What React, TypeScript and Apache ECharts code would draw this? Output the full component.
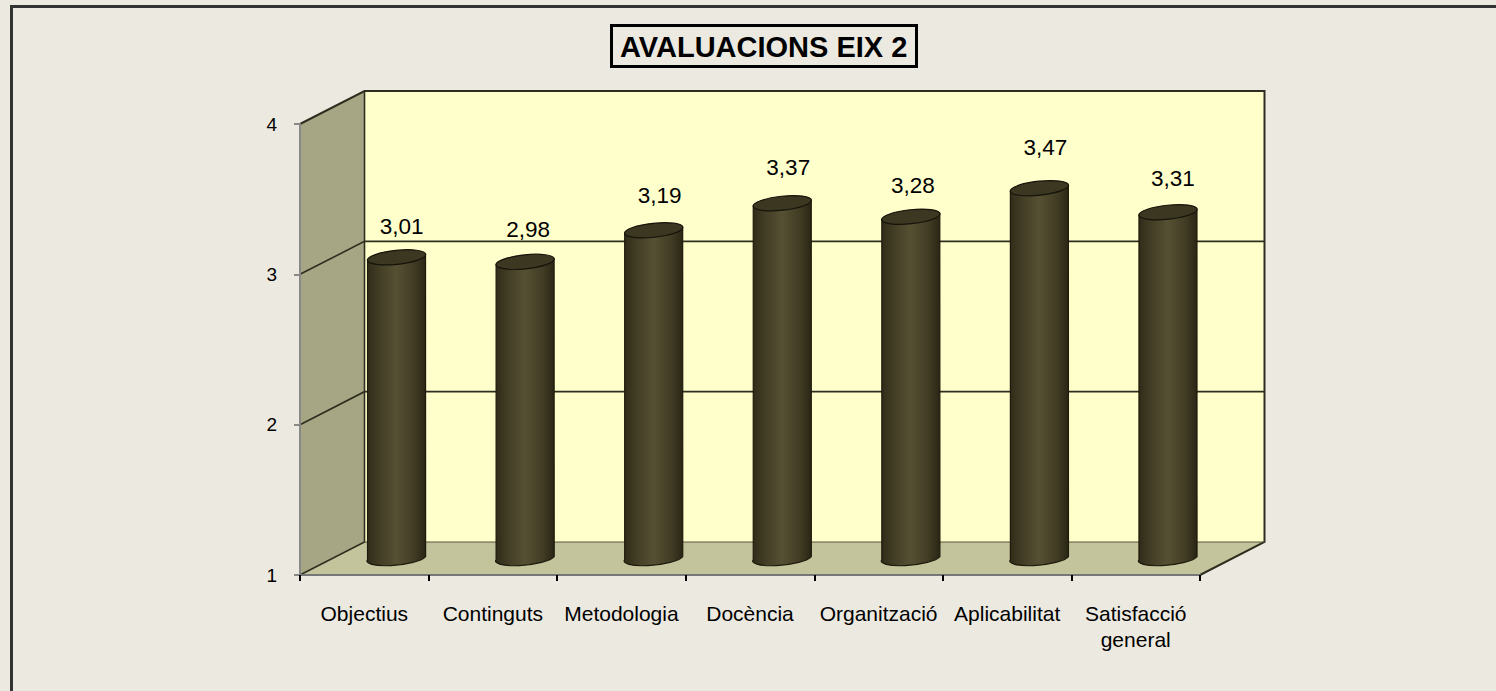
import React, { useEffect, useRef } from "react";
import * as echarts from "echarts";

const categories = ["Objectius", "Continguts", "Metodologia", "Docència", "Organització", "Aplicabilitat", "Satisfacció\ngeneral"];
const scores = [3.01, 2.98, 3.19, 3.37, 3.28, 3.47, 3.31];
const scoreLabels = ["3,01", "2,98", "3,19", "3,37", "3,28", "3,47", "3,31"];
const labelNudgeX = [5, 3, 6, 6, 2, 6, 5];
const labelNudgeY = [-31, -32, -35, -36, -31, -41, -34];
const gridValues = [2, 3];
const titleText = "AVALUACIONS EIX 2";

const DX = 64.5;
const DY = 33;
const FONT = "'Liberation Sans', Arial, sans-serif";
const BAR_HALF = 29;
const TILT = 3;

function renderBackdrop(params: any, api: any) {
  const cs = params.coordSys;
  const left = cs.x;
  const right = cs.x + cs.width;
  const top = cs.y;
  const bottom = cs.y + cs.height;
  const lineStyle = { stroke: "#2e2e20", lineWidth: 1.6, fill: "none" };
  const children: any[] = [
    { type: "polygon", shape: { points: [[left + DX, top - DY], [right + DX, top - DY], [right + DX, bottom - DY], [left + DX, bottom - DY]] }, style: { fill: "#FFFFCC" } },
    { type: "polygon", shape: { points: [[left, top], [left + DX, top - DY], [left + DX, bottom - DY], [left, bottom]] }, style: { fill: "#A6A685" } },
    { type: "polygon", shape: { points: [[left, bottom], [left + DX, bottom - DY], [right + DX, bottom - DY], [right, bottom]] }, style: { fill: "#C4C49C" } },
  ];
  gridValues.forEach((v) => {
    const y = api.coord([0, v])[1];
    children.push({ type: "polyline", shape: { points: [[left, y], [left + DX, y - DY], [right + DX, y - DY]] }, style: lineStyle });
  });
  children.push({ type: "polyline", shape: { points: [[left, top], [left + DX, top - DY], [right + DX, top - DY], [right + DX, bottom - DY], [right, bottom]] }, style: { ...lineStyle, lineWidth: 2 } });
  children.push({ type: "polyline", shape: { points: [[left, bottom], [left + DX, bottom - DY], [left + DX, top - DY]] }, style: lineStyle });
  children.push({ type: "line", shape: { x1: left + DX, y1: bottom - DY, x2: right + DX, y2: bottom - DY }, style: { stroke: "#55553f", lineWidth: 1 } });
  return { type: "group", children };
}

function renderBar(params: any, api: any) {
  const i = api.value(0);
  const value = api.value(1);
  const p = api.coord([i, value]);
  const b = api.coord([i, 1]);
  const x = p[0] + DX / 2;
  const top = p[1] - DY / 2 + 1;
  const base = b[1] - DY / 2 - 2;
  const l = x - BAR_HALF;
  const r = x + BAR_HALF;
  const body = `M${l} ${top + TILT} L${l} ${base + TILT} A${BAR_HALF + 0.3} 7 -6 0 0 ${r} ${base - TILT} L${r} ${top - TILT} Z`;
  return {
    type: "group",
    children: [
      {
        type: "path",
        shape: { pathData: body },
        style: {
          fill: new echarts.graphic.LinearGradient(0, 0, 1, 0, [
            { offset: 0, color: "#2f2b18" },
            { offset: 0.2, color: "#413c24" },
            { offset: 0.5, color: "#565033" },
            { offset: 0.8, color: "#413c24" },
            { offset: 1, color: "#2a2614" },
          ]),
          stroke: "#1d1a0c",
          lineWidth: 1.2,
        },
      },
      {
        type: "ellipse",
        x,
        y: top,
        rotation: (6 * Math.PI) / 180,
        shape: { cx: 0, cy: 0, rx: BAR_HALF + 0.3, ry: 7 },
        style: { fill: "#3b3721", stroke: "#15130a", lineWidth: 1.2 },
      },
      {
        type: "text",
        x: x + labelNudgeX[i],
        y: top + labelNudgeY[i],
        style: { text: scoreLabels[i], fill: "#000", font: `22.5px ${FONT}`, textAlign: "center", textVerticalAlign: "middle" },
      },
    ],
  };
}

export default function App() {
  const ref = useRef<HTMLDivElement>(null);
  useEffect(() => {
    const chart = echarts.init(ref.current!, null, { renderer: "svg" });
    chart.setOption({
      animation: false,
      backgroundColor: "#ECEAE0",
      textStyle: { fontFamily: FONT },
      title: {
        text: titleText,
        left: 611,
        top: 25,
        padding: [7, 9, 6, 9],
        borderColor: "#000",
        borderWidth: 3,
        textStyle: { fontSize: 29, fontWeight: "bold", color: "#000", fontFamily: FONT },
      },
      grid: { left: 300, right: 296, top: 124, bottom: 116, containLabel: false },
      xAxis: {
        type: "category",
        data: categories,
        z: 5,
        axisLine: { lineStyle: { color: "#777777", width: 2 } },
        axisTick: { show: true, alignWithLabel: false, length: 6, lineStyle: { color: "#000", width: 2 } },
        axisLabel: { interval: 0, margin: 25, fontSize: 21, lineHeight: 26, color: "#000", fontFamily: FONT, verticalAlign: "top" },
      },
      yAxis: {
        type: "value",
        min: 1,
        max: 4,
        interval: 1,
        z: 5,
        splitLine: { show: false },
        axisLine: { show: true, lineStyle: { color: "#888888", width: 2 } },
        axisTick: { show: true, length: 6, lineStyle: { color: "#888888", width: 2 } },
        axisLabel: { margin: 23, fontSize: 19, color: "#000", fontFamily: FONT },
      },
      graphic: [
        { type: "rect", shape: { x: 10, y: 5, width: 1486, height: 3 }, style: { fill: "#333333" }, silent: true },
        { type: "rect", shape: { x: 10, y: 5, width: 3, height: 686 }, style: { fill: "#333333" }, silent: true },
      ],
      series: [
        { type: "custom", z: 1, silent: true, data: [[0, 1]], renderItem: renderBackdrop, clip: false },
        { type: "custom", z: 2, silent: true, data: scores.map((v, i) => [i, v]), encode: { x: 0, y: 1 }, renderItem: renderBar, clip: false },
      ],
    });
    return () => chart.dispose();
  }, []);
  return <div ref={ref} style={{ position: "fixed", left: 0, top: 0, width: 1496, height: 691 }} />;
}
